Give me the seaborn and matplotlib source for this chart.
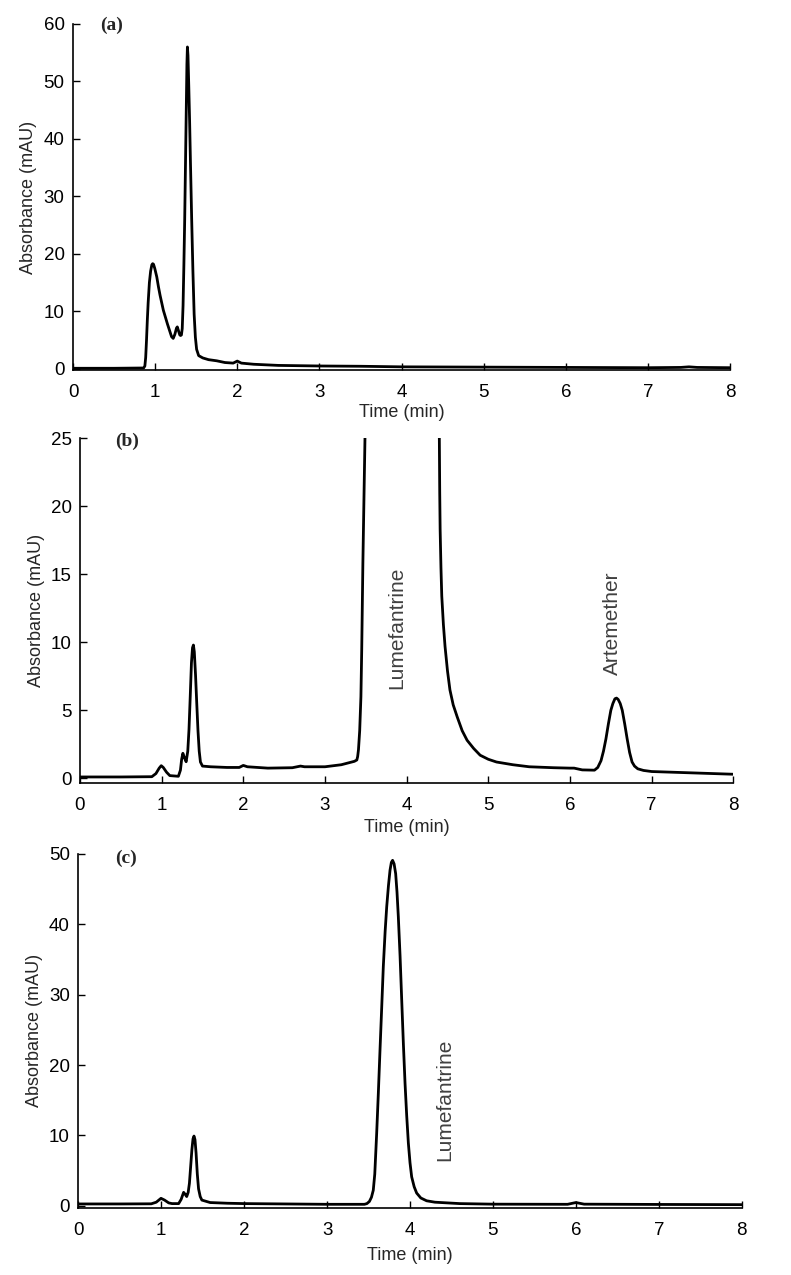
"""
Three stacked HPLC chromatograms: (a) blank, (b) artemether + lumefantrine, (c) lumefantrine.
"""

import matplotlib
matplotlib.use("Agg")
import matplotlib.pyplot as plt
import pandas as pd
import seaborn as sns

# ── data (time in min, absorbance in mAU) ─────────────────────────────────────
TIME_A = [0, 0.5, 0.86, 0.875, 0.885, 0.895, 0.905, 0.915, 0.93, 0.945, 0.96,
          0.97, 0.98, 0.995, 1.02, 1.04, 1.06, 1.08, 1.10, 1.15, 1.20, 1.22,
          1.24, 1.26, 1.27, 1.285, 1.30, 1.31, 1.32, 1.33, 1.34, 1.35, 1.36,
          1.37, 1.38, 1.387, 1.393, 1.40, 1.41, 1.42, 1.43, 1.445, 1.46, 1.475,
          1.49, 1.505, 1.53, 1.58, 1.65, 1.75, 1.85, 1.95, 2.0, 2.05, 2.2, 2.5,
          3.0, 3.5, 4.0, 5.0, 6.0, 7.0, 7.4, 7.5, 7.6, 8.0]
ABS_A = [0.1, 0.1, 0.15, 0.5, 2.0, 5.0, 8.5, 11.5, 15.0, 17.0, 18.1,
         18.3, 18.2, 17.5, 16.0, 14.3, 12.8, 11.5, 10.2, 7.8, 5.6, 5.3,
         6.0, 7.1, 7.3, 6.6, 5.9, 5.8, 5.9, 7.0, 11.0, 18.0, 26.0,
         36.0, 46.0, 53.0, 56.0, 54.5, 49.0, 43.0, 36.0, 26.0, 17.0, 9.5,
         5.5, 3.4, 2.3, 1.9, 1.6, 1.4, 1.1, 1.0, 1.35, 1.0, 0.8, 0.6,
         0.5, 0.45, 0.35, 0.3, 0.25, 0.2, 0.25, 0.35, 0.25, 0.2]

TIME_B = [0, 0.5, 0.88, 0.93, 0.97, 0.995, 1.02, 1.06, 1.10, 1.205, 1.23,
          1.245, 1.26, 1.28, 1.30, 1.32, 1.335, 1.35, 1.365, 1.378, 1.389,
          1.40, 1.415, 1.43, 1.445, 1.46, 1.475, 1.50, 1.6, 1.8, 1.95, 2.0,
          2.05, 2.3, 2.6, 2.7, 2.75, 3.0, 3.2, 3.36, 3.39, 3.40, 3.41, 3.425,
          3.44, 3.45, 3.464, 3.477, 3.49, 3.52, 3.95, 4.37, 4.40, 4.405, 4.41,
          4.42, 4.43, 4.45, 4.47, 4.50, 4.53, 4.57, 4.62, 4.68, 4.74, 4.82,
          4.90, 5.0, 5.1, 5.3, 5.5, 5.8, 6.0, 6.05, 6.15, 6.30, 6.34, 6.38,
          6.41, 6.44, 6.47, 6.50, 6.525, 6.55, 6.57, 6.59, 6.615, 6.64, 6.67,
          6.70, 6.73, 6.76, 6.79, 6.83, 6.9, 7.0, 7.5, 8.0]
ABS_B = [0.1, 0.1, 0.12, 0.35, 0.75, 0.93, 0.8, 0.45, 0.2, 0.15, 0.6,
         1.4, 1.84, 1.5, 1.22, 2.0, 3.6, 6.0, 8.5, 9.6, 9.8,
         9.3, 7.6, 5.5, 3.5, 2.0, 1.2, 0.9, 0.85, 0.8, 0.8, 0.95,
         0.85, 0.75, 0.78, 0.9, 0.85, 0.85, 1.0, 1.25, 1.35, 1.6, 2.1, 3.5,
         6.0, 9.5, 15.8, 20.5, 25.1, 45.0, 150.0, 45.0, 25.1, 21.0, 18.3,
         15.5, 13.4, 11.3, 9.7, 7.9, 6.5, 5.4, 4.5, 3.5, 2.8, 2.2,
         1.7, 1.4, 1.2, 1.0, 0.85, 0.78, 0.75, 0.75, 0.62, 0.6, 0.8, 1.3,
         2.0, 2.9, 4.0, 5.0, 5.5, 5.85, 5.9, 5.8, 5.5, 5.0, 4.0,
         2.9, 1.9, 1.2, 0.9, 0.7, 0.58, 0.5, 0.4, 0.3]

TIME_C = [0, 0.5, 0.88, 0.94, 0.997, 1.04, 1.09, 1.13, 1.21, 1.24, 1.27,
          1.29, 1.307, 1.325, 1.34, 1.355, 1.37, 1.383, 1.395, 1.407, 1.42,
          1.435, 1.45, 1.47, 1.49, 1.59, 1.8, 2.0, 2.5, 3.0, 3.45, 3.48, 3.51,
          3.535, 3.557, 3.575, 3.598, 3.618, 3.638, 3.658, 3.678, 3.70, 3.719,
          3.74, 3.759, 3.775, 3.79, 3.808, 3.827, 3.843, 3.859, 3.88, 3.9,
          3.92, 3.94, 3.96, 3.98, 4.0, 4.02, 4.05, 4.08, 4.13, 4.2, 4.3, 4.6,
          5.0, 5.9, 6.0, 6.1, 7.0, 8.0]
ABS_C = [0.25, 0.25, 0.27, 0.5, 1.05, 0.8, 0.4, 0.3, 0.3, 0.9, 1.9,
         1.6, 1.3, 1.9, 3.2, 5.6, 8.0, 9.5, 9.9, 9.4, 7.5,
         4.5, 2.4, 1.3, 0.8, 0.45, 0.35, 0.3, 0.25, 0.2, 0.2, 0.3, 0.6,
         1.2, 2.2, 4.5, 10.3, 16.0, 22.1, 28.0, 34.0, 39.0, 42.5,
         45.5, 47.7, 48.8, 49.1, 48.6, 47.2, 44.6, 41.1, 35.5, 29.2,
         23.0, 17.4, 12.8, 8.9, 6.1, 4.1, 2.7, 1.8, 1.1, 0.7, 0.5, 0.3,
         0.22, 0.2, 0.45, 0.22, 0.18, 0.15]

PANEL_LABELS = ["(a)", "(b)", "(c)"]
Y_LIMITS = [(-0.2, 60), (-0.37, 25), (-0.28, 50)]
Y_TICKS = [[0, 10, 20, 30, 40, 50, 60], [0, 5, 10, 15, 20, 25],
           [0, 10, 20, 30, 40, 50]]
X_TICKS = [0, 1, 2, 3, 4, 5, 6, 7, 8]

# peak names: (panel index, time, absorbance, text)
PEAK_NAMES = [(1, 3.88, 11.1, "Lumefantrine"),
              (1, 6.52, 11.4, "Artemether"),
              (2, 4.42, 15.0, "Lumefantrine")]

sns.set_style("ticks")
plt.rcParams["font.family"] = ["Liberation Sans", "DejaVu Sans"]

fig = plt.figure(figsize=(7.91, 12.75), dpi=100)

rects = [
    [0.0923, 0.7098, 0.8306, 0.2714],
    [0.1011, 0.3856, 0.8260, 0.2706],
    [0.0990, 0.0528, 0.8387, 0.2774],
]
xlabel_y = [-0.124, -0.127, -0.134]
ylabel_x = [-0.0685, -0.0663, -0.0653]
panel_xy = [(0.059, 0.997), (0.072, 0.99), (0.072, 0.989)]

traces = [(TIME_A, ABS_A), (TIME_B, ABS_B), (TIME_C, ABS_C)]

axes = []
for i, (t, a) in enumerate(traces):
    ax = fig.add_axes(rects[i])
    df = pd.DataFrame({"Time (min)": t, "Absorbance (mAU)": a})
    sns.lineplot(data=df, x="Time (min)", y="Absorbance (mAU)", ax=ax,
                 color="black", linewidth=2.0, estimator=None)

    ax.set_xlim(0, 8)
    ax.set_ylim(*Y_LIMITS[i])
    ax.set_xticks(X_TICKS)
    ax.set_yticks(Y_TICKS[i])
    sns.despine(ax=ax)
    for side in ("left", "bottom"):
        ax.spines[side].set_linewidth(1.2)
        ax.spines[side].set_color("black")

    ax.tick_params(axis="both", direction="in", length=5, width=1,
                   colors="black", labelsize=13.5)
    ax.tick_params(axis="x", pad=10)
    ax.tick_params(axis="y", pad=6)

    ax.set_xlabel("Time (min)", fontsize=13)
    ax.set_ylabel("Absorbance (mAU)", fontsize=13)
    ax.xaxis.set_label_coords(0.5, xlabel_y[i])
    ax.xaxis.label.set_va("center")
    ax.yaxis.set_label_coords(ylabel_x[i], 0.5)
    ax.yaxis.label.set_va("center")

    ax.text(panel_xy[i][0], panel_xy[i][1], PANEL_LABELS[i],
            transform=ax.transAxes, ha="center", va="center",
            family="Liberation Serif", fontweight="bold", fontsize=14)
    axes.append(ax)

for idx, t, a, name in PEAK_NAMES:
    axes[idx].text(t, a, name, rotation=90, ha="center", va="center",
                   fontsize=15, color="#404040")

fig.savefig("out.png", dpi=100)
plt.close(fig)
